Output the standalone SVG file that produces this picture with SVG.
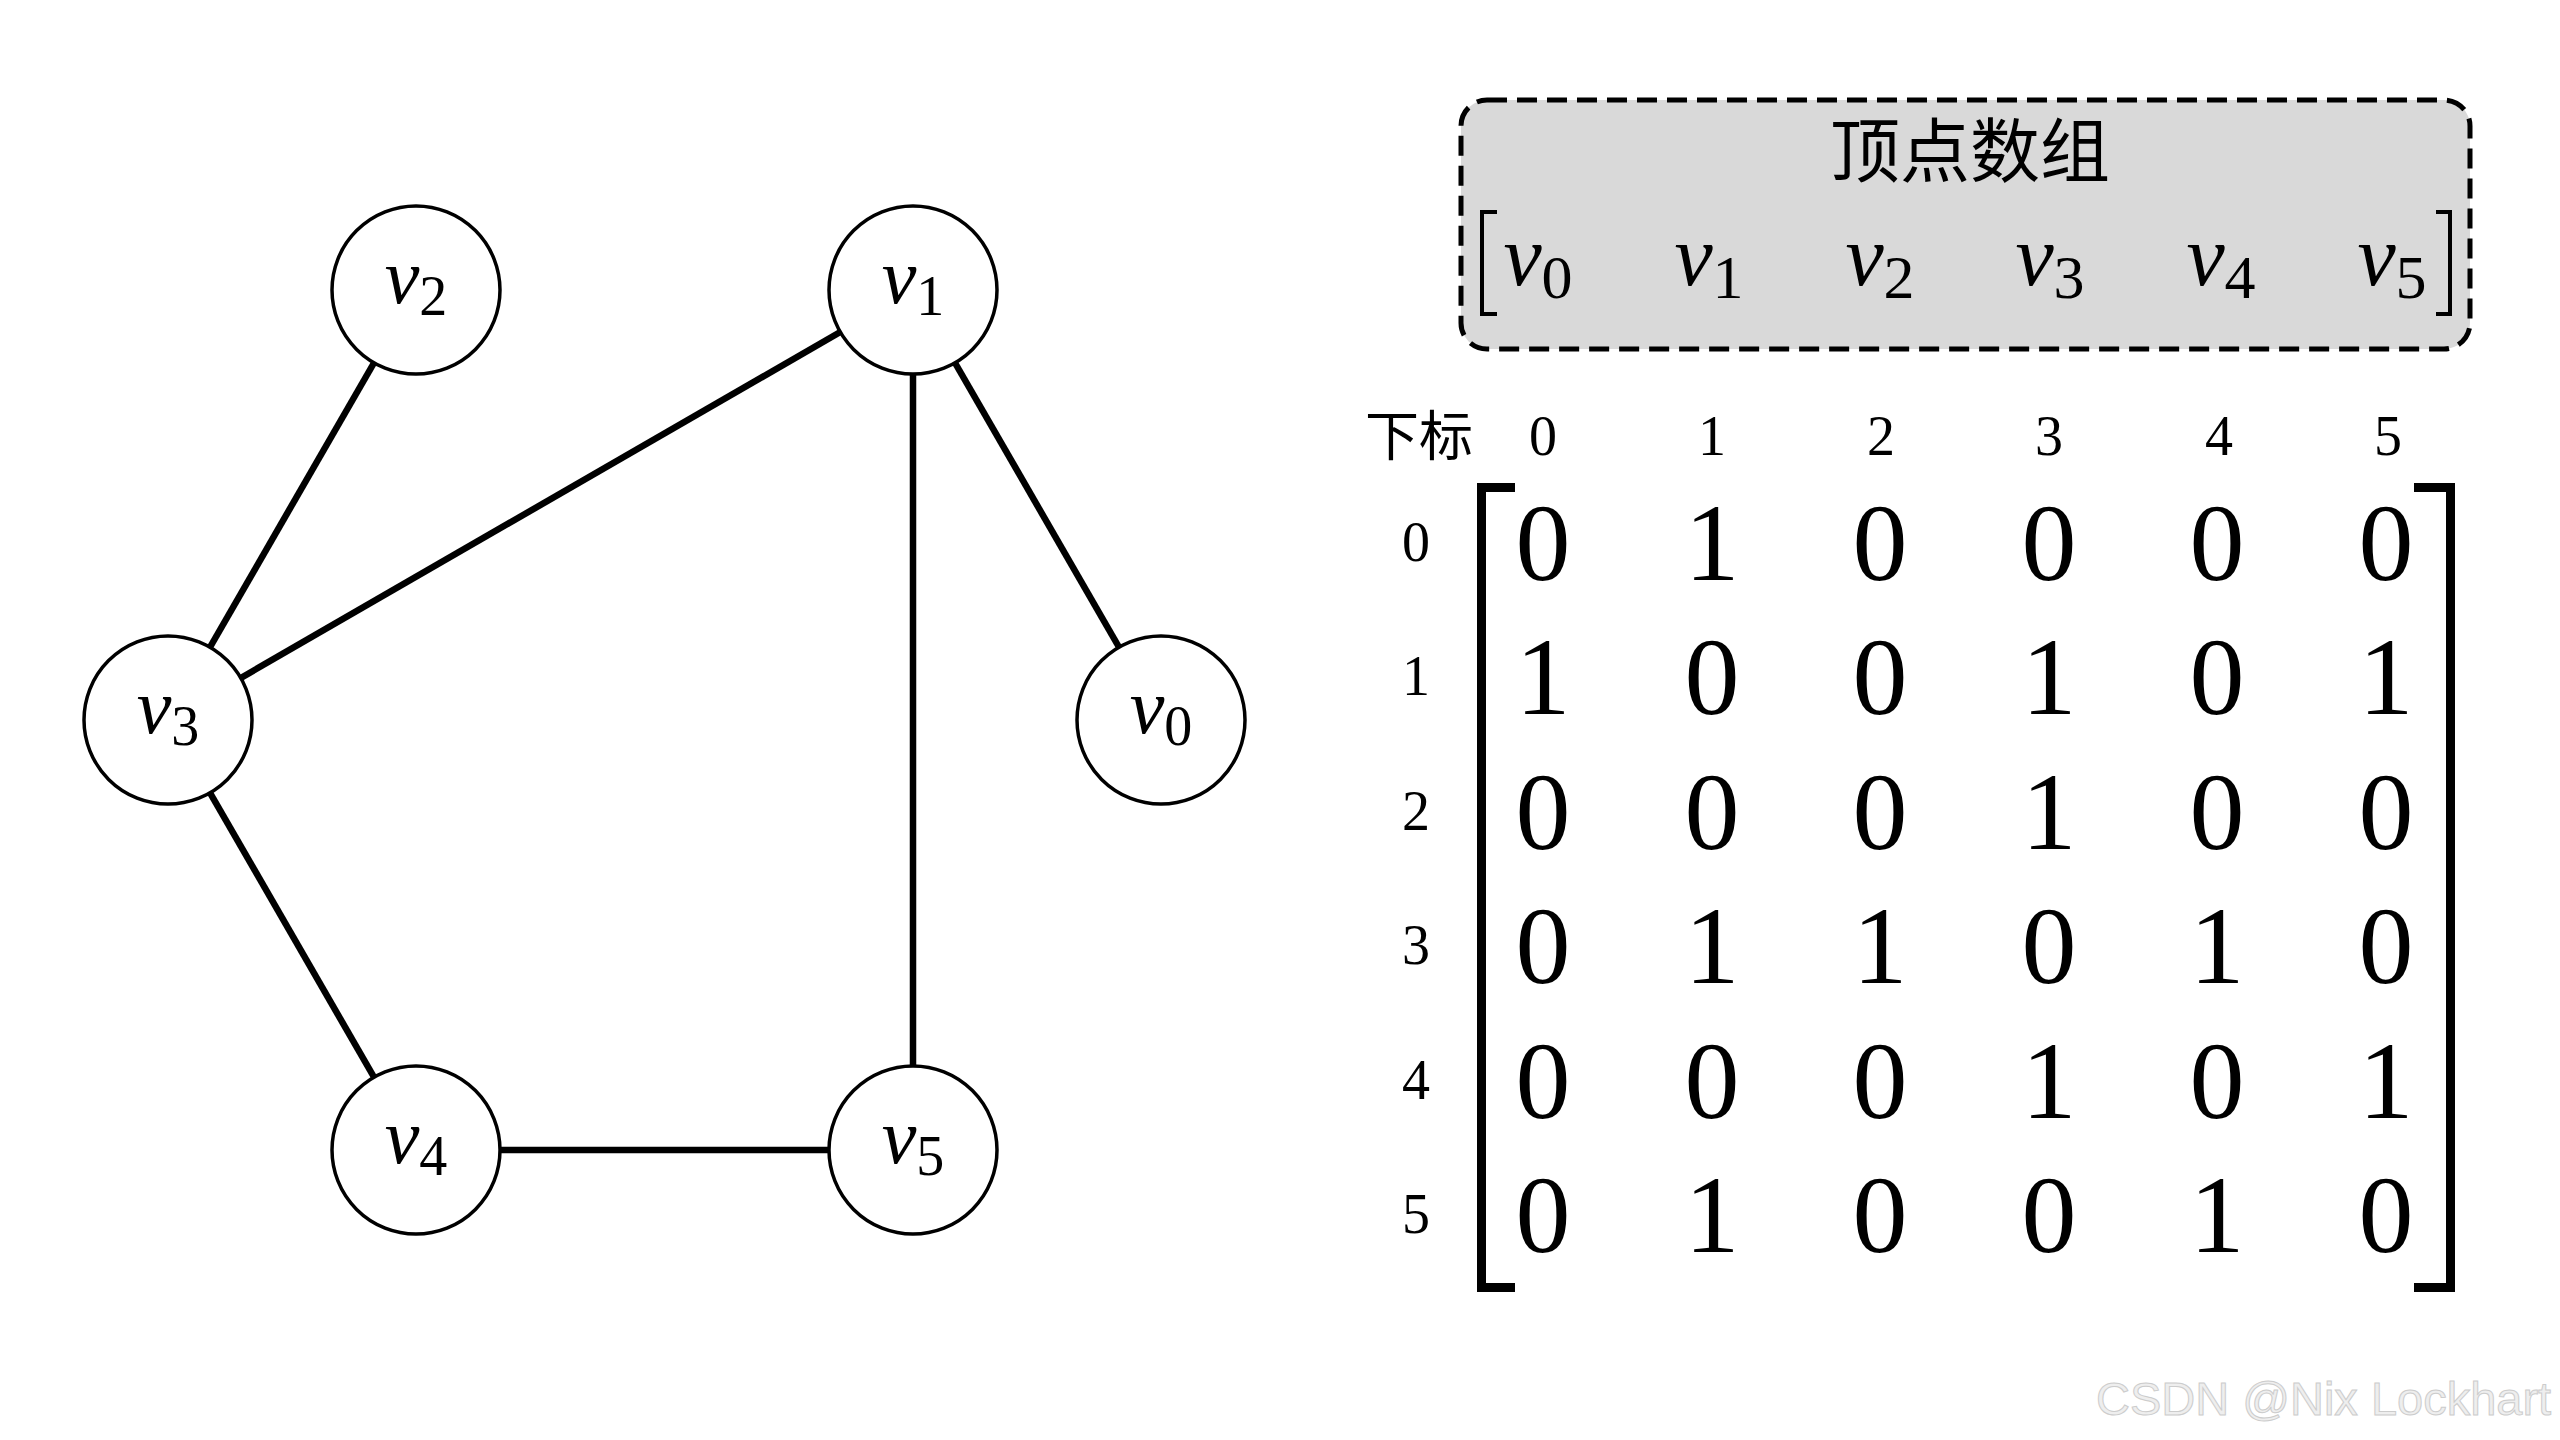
<svg xmlns="http://www.w3.org/2000/svg" width="2560" height="1440" viewBox="0 0 2560 1440">
<style>
.edge{stroke:#000;stroke-width:6.5;fill:none;stroke-linecap:butt}
.node{fill:#fff;stroke:#000;stroke-width:3.5}
.lbl{font-family:"Liberation Serif",serif;font-size:78px;fill:#000}
.lbl .v{font-style:italic}
.lbl .s{font-size:56px}
.arr{font-family:"Liberation Serif",serif;font-size:86px;fill:#000}
.arr .v{font-style:italic}
.arr .s{font-size:62px}
.cjk{font-family:"Noto Sans CJK SC","Noto Sans CJK JP",sans-serif;fill:#000}
.idx{font-family:"Liberation Serif",serif;font-size:56px;fill:#000;text-anchor:middle}
.cell{font-family:"Liberation Serif",serif;font-size:110px;fill:#000;text-anchor:middle}
.brk{fill:none;stroke:#000}
</style>
<rect width="2560" height="1440" fill="#fff"/>
<g id="connectors">
<line class="edge" x1="416" y1="290" x2="168" y2="720"/>
<line class="edge" x1="913" y1="290" x2="168" y2="720"/>
<line class="edge" x1="913" y1="290" x2="1161" y2="720"/>
<line class="edge" x1="913" y1="290" x2="913" y2="1150"/>
<line class="edge" x1="168" y1="720" x2="416" y2="1150"/>
<line class="edge" x1="416" y1="1150" x2="913" y2="1150"/>
</g>
<g id="v2"><circle class="node" cx="416" cy="290" r="84"/><text class="lbl" x="416" y="303" text-anchor="middle"><tspan class="v">v</tspan><tspan class="s" dy="12">2</tspan></text></g>
<g id="v1"><circle class="node" cx="913" cy="290" r="84"/><text class="lbl" x="913" y="303" text-anchor="middle"><tspan class="v">v</tspan><tspan class="s" dy="12">1</tspan></text></g>
<g id="v3"><circle class="node" cx="168" cy="720" r="84"/><text class="lbl" x="168" y="733" text-anchor="middle"><tspan class="v">v</tspan><tspan class="s" dy="12">3</tspan></text></g>
<g id="v0"><circle class="node" cx="1161" cy="720" r="84"/><text class="lbl" x="1161" y="733" text-anchor="middle"><tspan class="v">v</tspan><tspan class="s" dy="12">0</tspan></text></g>
<g id="v4"><circle class="node" cx="416" cy="1150" r="84"/><text class="lbl" x="416" y="1163" text-anchor="middle"><tspan class="v">v</tspan><tspan class="s" dy="12">4</tspan></text></g>
<g id="v5"><circle class="node" cx="913" cy="1150" r="84"/><text class="lbl" x="913" y="1163" text-anchor="middle"><tspan class="v">v</tspan><tspan class="s" dy="12">5</tspan></text></g>

<g id="vertex-array">
<rect x="1461" y="100" width="1009" height="249" rx="26" ry="26" fill="#d9d9d9" stroke="#000" stroke-width="5" stroke-dasharray="20 10"/>
<text class="cjk" x="1970" y="177" font-size="70" text-anchor="middle">顶点数组</text>
<path class="brk" stroke-width="4" d="M1497,212 H1482 V314 H1497"/>
<path class="brk" stroke-width="4" d="M2436,212 H2450 V314 H2436"/>
<text class="arr" x="1538" y="285" text-anchor="middle"><tspan class="v">v</tspan><tspan class="s" dy="13">0</tspan></text>
<text class="arr" x="1709" y="285" text-anchor="middle"><tspan class="v">v</tspan><tspan class="s" dy="13">1</tspan></text>
<text class="arr" x="1880" y="285" text-anchor="middle"><tspan class="v">v</tspan><tspan class="s" dy="13">2</tspan></text>
<text class="arr" x="2050" y="285" text-anchor="middle"><tspan class="v">v</tspan><tspan class="s" dy="13">3</tspan></text>
<text class="arr" x="2221" y="285" text-anchor="middle"><tspan class="v">v</tspan><tspan class="s" dy="13">4</tspan></text>
<text class="arr" x="2392" y="285" text-anchor="middle"><tspan class="v">v</tspan><tspan class="s" dy="13">5</tspan></text>
</g>

<g id="matrix">
<text class="cjk" x="1365" y="456" font-size="54">下标</text>
<text class="idx" x="1543" y="455">0</text>
<text class="idx" x="1712" y="455">1</text>
<text class="idx" x="1881" y="455">2</text>
<text class="idx" x="2049" y="455">3</text>
<text class="idx" x="2219" y="455">4</text>
<text class="idx" x="2388" y="455">5</text>
<text class="idx" x="1416" y="561">0</text>
<text class="idx" x="1416" y="695">1</text>
<text class="idx" x="1416" y="830">2</text>
<text class="idx" x="1416" y="964">3</text>
<text class="idx" x="1416" y="1099">4</text>
<text class="idx" x="1416" y="1233">5</text>
<path class="brk" stroke-width="9" d="M1515,487.5 H1481.5 V1287.5 H1515"/>
<path class="brk" stroke-width="9" d="M2414,487.5 H2450.5 V1287.5 H2414"/>
<g class="cell">
<text x="1543" y="580">0</text><text x="1712" y="580">1</text><text x="1880" y="580">0</text><text x="2049" y="580">0</text><text x="2217" y="580">0</text><text x="2386" y="580">0</text>
<text x="1543" y="714">1</text><text x="1712" y="714">0</text><text x="1880" y="714">0</text><text x="2049" y="714">1</text><text x="2217" y="714">0</text><text x="2386" y="714">1</text>
<text x="1543" y="849">0</text><text x="1712" y="849">0</text><text x="1880" y="849">0</text><text x="2049" y="849">1</text><text x="2217" y="849">0</text><text x="2386" y="849">0</text>
<text x="1543" y="983">0</text><text x="1712" y="983">1</text><text x="1880" y="983">1</text><text x="2049" y="983">0</text><text x="2217" y="983">1</text><text x="2386" y="983">0</text>
<text x="1543" y="1118">0</text><text x="1712" y="1118">0</text><text x="1880" y="1118">0</text><text x="2049" y="1118">1</text><text x="2217" y="1118">0</text><text x="2386" y="1118">1</text>
<text x="1543" y="1252">0</text><text x="1712" y="1252">1</text><text x="1880" y="1252">0</text><text x="2049" y="1252">0</text><text x="2217" y="1252">1</text><text x="2386" y="1252">0</text>
</g>
</g>

<text x="2096" y="1415" font-family="'Liberation Sans',Arial,sans-serif" font-size="47" fill="#eeeeee" stroke="#cccccc" stroke-width="1">CSDN @Nix Lockhart</text>
</svg>
